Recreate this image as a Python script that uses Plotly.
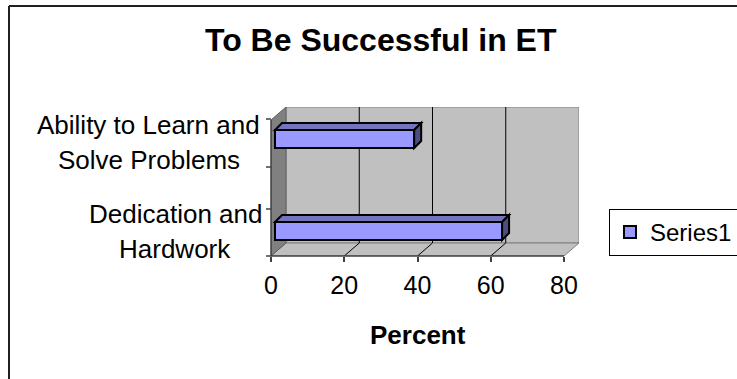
import plotly.graph_objects as go

# ---- data ----
categories = ["Dedication and<br>Hardwork", "Ability to Learn and<br>Solve Problems"]
values = [62, 38]
series_name = "Series1"
x_ticks = [0, 20, 40, 60, 80]
x_title = "Percent"
chart_title = "To Be Successful in ET"

# ---- styling ----
FONT = "Liberation Sans, Arial, sans-serif"
BAR_FRONT = "#9999FF"
BAR_TOP = "#7373BF"
BAR_SIDE = "#4D4D80"
WALL = "#C0C0C0"
SIDE_WALL = "#808080"
EDGE = "#808080"
AXIS = "#404040"

W, H = 737, 379
# plot-area pixel box
L, R, T, B = 271, 579, 107, 256
PX_PER_X = 293 / 80.0        # pixels per percent on the front plane
PX_PER_CAT = 92.0            # pixels between category centres
CAT0_PX = 235.0              # front-plane pixel row of first category
DEPTH_X, DEPTH_Y = 15, 13    # pseudo-3D depth of the walls (px)
BAR_D0, BAR_D1 = 4, 11       # bar depth inside the box (px)
BAR_H = 18                   # bar thickness (px)
FRONT_TOP_PX = 120           # top of the front-left edge
CAT_TICK_PX = [119, 167, 209, 256]
LABEL_X_CENTRES = [175, 148.5]
LABEL_Y_CENTRES = [231, 142]
LINE_GAP = 35

ddx = DEPTH_X / PX_PER_X
ddy = DEPTH_Y / PX_PER_CAT
xmax = x_ticks[-1]
y_lo = (CAT0_PX - B) / PX_PER_CAT
y_hi = (CAT0_PX - T) / PX_PER_CAT
y_front_top = y_hi - ddy

def px_x(px):
    return (px - L) / (R - L)

def px_y(py):
    return (B - py) / (B - T)

positions = list(range(len(categories)))

shapes = []

def poly(pts, fill, line_color, width=1, layer="below"):
    d = "M " + " L ".join(f"{x},{y}" for x, y in pts) + " Z"
    shapes.append(dict(type="path", path=d, xref="x", yref="y", fillcolor=fill,
                       line=dict(color=line_color, width=width), layer=layer))

def seg(x0, y0, x1, y1, color, width=1, xref="x", yref="y", layer="below"):
    shapes.append(dict(type="line", x0=x0, y0=y0, x1=x1, y1=y1, xref=xref, yref=yref,
                       line=dict(color=color, width=width), layer=layer))

# back wall
poly([(ddx, y_lo + ddy), (xmax + ddx, y_lo + ddy), (xmax + ddx, y_hi), (ddx, y_hi)], WALL, EDGE)
# floor
poly([(0, y_lo), (xmax, y_lo), (xmax + ddx, y_lo + ddy), (ddx, y_lo + ddy)], WALL, EDGE)
# side wall
poly([(0, y_lo), (0, y_front_top), (ddx, y_hi), (ddx, y_lo + ddy)], SIDE_WALL, "#606060")
# gridlines on the back wall and floor diagonals
for v in x_ticks[1:-1]:
    seg(v + ddx, y_lo + ddy, v + ddx, y_hi, "black", 1)
    seg(v, y_lo, v + ddx, y_lo + ddy, "black", 1)

# front axis lines and category ticks (paper refs so they are not clipped)
seg(px_x(L), 0, px_x(L + xmax * PX_PER_X), 0, AXIS, 1.5, "paper", "paper", "above")
seg(0, 0, 0, px_y(FRONT_TOP_PX), AXIS, 1.5, "paper", "paper", "above")
for py in CAT_TICK_PX:
    seg(px_x(L - 5), px_y(py), 0, px_y(py), AXIS, 1.5, "paper", "paper", "above")

# bar top and side faces
bx0, by0 = BAR_D0 / PX_PER_X, BAR_D0 / PX_PER_CAT
bdx, bdy = (BAR_D1 - BAR_D0) / PX_PER_X, (BAR_D1 - BAR_D0) / PX_PER_CAT
bh = BAR_H / PX_PER_CAT
for p, v in zip(positions, values):
    top = p + by0 + bh / 2
    bot = p + by0 - bh / 2
    x_end = bx0 + v
    poly([(bx0, top), (x_end, top), (x_end + bdx, top + bdy), (bx0 + bdx, top + bdy)],
         BAR_TOP, "black", 2)
    poly([(x_end, bot), (x_end, top), (x_end + bdx, top + bdy), (x_end + bdx, bot + bdy)],
         BAR_SIDE, "black", 2)

# outer chart frame
seg(px_x(9), px_y(6), px_x(W + 5), px_y(6), "#202020", 2, "paper", "paper", "above")
seg(px_x(9), px_y(6), px_x(9), px_y(H + 5), "#202020", 2, "paper", "paper", "above")

fig = go.Figure()
fig.add_trace(go.Bar(
    x=values, y=positions, base=bx0, orientation="h", name=series_name,
    width=bh, offset=by0 - bh / 2,
    marker=dict(color=BAR_FRONT, line=dict(color="black", width=2)),
    showlegend=True,
))

annotations = [
    dict(text=f"<b>{chart_title}</b>", xref="paper", yref="paper",
         x=px_x(381), y=px_y(40), showarrow=False, xanchor="center", yanchor="middle",
         font=dict(family=FONT, size=32, color="black")),
    dict(text=f"<b>{x_title}</b>", xref="paper", yref="paper",
         x=px_x(418), y=px_y(335), showarrow=False, xanchor="center", yanchor="middle",
         font=dict(family=FONT, size=26, color="black")),
]
# category labels, one annotation per line for Excel-like line spacing
for lab, cx, cy in zip(categories, LABEL_X_CENTRES, LABEL_Y_CENTRES):
    lines = lab.split("<br>")
    n = len(lines)
    for i, line in enumerate(lines):
        yy = cy + (i - (n - 1) / 2) * LINE_GAP
        annotations.append(dict(text=line, xref="paper", yref="paper", x=px_x(cx), y=px_y(yy),
                                showarrow=False, xanchor="center", yanchor="middle",
                                font=dict(family=FONT, size=26, color="black")))

fig.update_layout(
    width=W, height=H,
    margin=dict(l=L, r=W - R, t=T, b=H - B, autoexpand=False),
    paper_bgcolor="white", plot_bgcolor="rgba(0,0,0,0)",
    font=dict(family=FONT, size=25, color="black"),
    xaxis=dict(range=[0, xmax + ddx], tickvals=x_ticks, ticks="outside", ticklen=5,
               tickwidth=1.5, tickcolor=AXIS, showgrid=False,
               zeroline=False, showline=False, ticklabelstandoff=2,
               tickfont=dict(size=25)),
    yaxis=dict(range=[y_lo, y_hi], showticklabels=False, ticks="", showgrid=False,
               zeroline=False, showline=False),
    shapes=shapes,
    annotations=annotations,
    legend=dict(x=px_x(609), y=px_y(209), xanchor="left", yanchor="top",
                bordercolor="black", borderwidth=1, bgcolor="white",
                font=dict(family=FONT, size=24, color="black")),
    bargap=0,
)

fig.write_html("out.html", config={"displayModeBar": False})
